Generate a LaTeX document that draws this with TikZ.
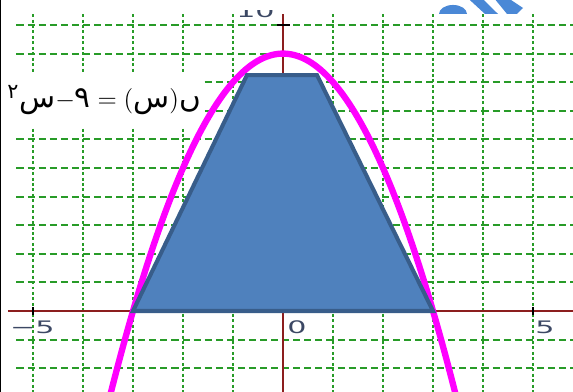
\documentclass[tikz,border=0pt]{standalone}
\usepackage{fontspec}
\usepackage{graphicx}
\newfontfamily\arabicfont[Script=Arabic, Scale=1.2]{DejaVu Sans}
\newfontfamily\zahlfont{DejaVu Sans}
\TeXXeTstate=1
\definecolor{gitter}{RGB}{40,155,40}
\definecolor{achsrot}{RGB}{140,30,30}
\definecolor{trapfill}{RGB}{79,129,189}
\definecolor{traprand}{RGB}{56,93,138}
\definecolor{parabelfarbe}{RGB}{255,0,255}
\definecolor{logoblau}{RGB}{74,136,214}
\definecolor{zahlfarbe}{RGB}{60,72,100}
\newcommand{\breit}[1]{\scalebox{1.75}[1]{#1}}

\begin{document}
\begin{tikzpicture}[x=1cm, y=0.572cm,
    gitterh/.style={gitter, line width=1.1pt, dash pattern=on 4pt off 2.3pt},
    gitterv/.style={gitter, line width=1.1pt, dash pattern=on 1.7pt off 1.4pt},
    achse/.style={achsrot, line width=1.1pt},
    strich/.style={black, line width=1.2pt},
    zahl/.style={inner sep=0pt, text=zahlfarbe, font=\zahlfont\fontsize{9.8}{11}\selectfont},
    parabel/.style={parabelfarbe, line width=3.6pt},
    trapez/.style={fill=trapfill, draw=traprand, line width=2.3pt}]
    \useasboundingbox (-5.66,-2.832) rectangle (5.8,10.874);
    \clip (-5.66,-2.832) rectangle (5.8,10.874);

    % Gitter (horizontal)
    \draw[gitterh] (-5.33,-2) -- (5.8,-2) (-5.33,-1) -- (5.8,-1) (-5.33,0) -- (5.8,0)
        (-5.33,1) -- (5.8,1) (-5.33,2) -- (5.8,2) (-5.33,3) -- (5.8,3) (-5.33,4) -- (5.8,4)
        (-5.33,5) -- (5.8,5) (-5.33,6) -- (5.8,6) (-5.33,7) -- (5.8,7) (-5.33,8) -- (5.8,8)
        (-5.33,9) -- (5.8,9) (-5.33,10) -- (5.8,10);
    % Gitter (vertikal)
    \draw[gitterv] (-5,10.38) -- (-5,-2.832) (-4,10.38) -- (-4,-2.832) (-3,10.38) -- (-3,-2.832)
        (-2,10.38) -- (-2,-2.832) (-1,10.38) -- (-1,-2.832) (0,10.38) -- (0,-2.832)
        (1,10.38) -- (1,-2.832) (2,10.38) -- (2,-2.832) (3,10.38) -- (3,-2.832)
        (4,10.38) -- (4,-2.832) (5,10.38) -- (5,-2.832);

    % Achsen
    \draw[achse] (-5.5,0) -- (5.8,0);
    \draw[achse] (0,10.38) -- (0,-2.832);
    \draw[strich] (-5,-0.14) -- (-5,0.14);
    \draw[strich] (5,-0.14) -- (5,0.14);
    \draw[strich] (-0.12,10) -- (0.14,10);

    % Beschriftung der Achsen
    \node[zahl, anchor=east] (xminusfuenf) at (-4.56,-0.58) {\breit{−5}};
    \node[zahl, anchor=east] (xnull) at (0.48,-0.58) {\breit{0}};
    \node[zahl, anchor=east] (xfuenf) at (5.44,-0.58) {\breit{5}};
    \node[zahl, anchor=south east] (yzehn) at (-0.16,10.245) {\breit{10}};

    % Funktionsterm
    \node[fill=white, inner sep=0pt, minimum width=3.96cm, minimum height=1.12cm,
        font=\fontsize{14}{18}\selectfont] (formel) at (-3.58,7.38)
        {\beginR{\arabicfont ں}$)${\arabicfont س}$($\;$=$\;{\arabicfont ٩}$-${\arabicfont س}\textsuperscript{\arabicfont ٢}\endR};

    % Parabel und Trapez
    \draw[parabel] plot[domain=-3.6:3.6, samples=120, smooth] (\x,{9-\x*\x});
    \draw[trapez] (-3,0) -- (3,0) -- (0.68,8.25) -- (-0.72,8.25) -- cycle;

    % oberer Rand mit Logo
    \fill[white] (-5.66,10.525) rectangle (5.8,10.9);
    \fill[logoblau] (3.12,10.385) arc[start angle=180, end angle=0, x radius=0.28, y radius=0.315];
    \fill[logoblau] (3.72,10.9) -- (4.0,10.9) -- (4.3,10.385) -- (4.04,10.385) -- cycle;
    \fill[logoblau] (4.24,10.9) -- (4.54,10.9) -- (4.8,10.594) -- (4.68,10.385) -- (4.48,10.385) -- cycle;
    \draw[black, line width=1.7pt] (-5.66,-2.832) -- (-5.66,10.874);
\end{tikzpicture}
\end{document}
